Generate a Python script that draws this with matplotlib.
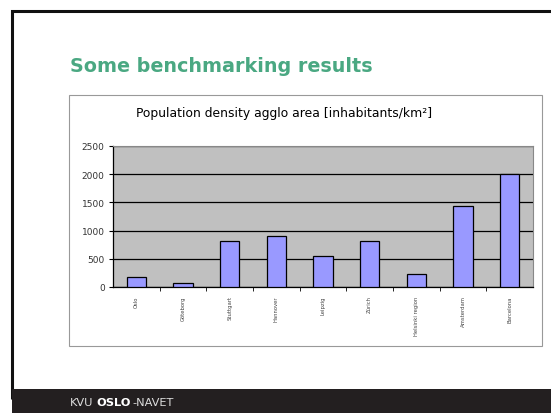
import matplotlib
matplotlib.use("Agg")
import matplotlib.pyplot as plt
from matplotlib.patches import Rectangle

# data
cities = ['Oslo', 'Göteborg', 'Stuttgart', 'Hannover', 'Leipzig', 'Zürich',
          'Helsinki region', 'Amsterdam', 'Barcelona']
density = [180, 70, 815, 910, 545, 815, 225, 1430, 2000]
yticks = [0, 500, 1000, 1500, 2000, 2500]

W, H = 551, 414
fig = plt.figure(figsize=(W / 100, H / 100), dpi=100)
fig.patch.set_facecolor('white')

def px(x0, y0, x1, y1):
    # pixel box (top-left origin) -> figure fraction rect
    return (x0 / W, 1 - y1 / H, (x1 - x0) / W, (y1 - y0) / H)

# slide frame
l, b, w, h = px(12, 12, 560, 400)
fig.patches.append(Rectangle((l, b), w, h, transform=fig.transFigure,
                             fill=False, edgecolor='#111111', lw=2.2, zorder=0))
# footer band
l, b, w, h = px(12, 390, 560, 420)
fig.patches.append(Rectangle((l, b), w, h, transform=fig.transFigure,
                             facecolor='#231f20', edgecolor='none', zorder=0))
t1 = fig.text(70 / W, 1 - 403 / H, 'KVU', color='#dddddd', fontsize=8.2,
              va='center', family='DejaVu Sans')
t2 = fig.text(0, 0, 'OSLO', color='white', fontsize=8.2, weight='bold',
              va='center', family='DejaVu Sans')
t3 = fig.text(0, 0, '-NAVET', color='#dddddd', fontsize=8.2,
              va='center', family='DejaVu Sans')
fig.canvas.draw()
r = fig.canvas.get_renderer()
bb = t1.get_window_extent(r)
t2.set_position(((bb.x1 + 3) / W, 1 - 403 / H))
bb = t2.get_window_extent(r)
t3.set_position(((bb.x1 + 1) / W, 1 - 403 / H))

# slide title
fig.text(70 / W, 1 - 67 / H, 'Some benchmarking results', color='#4aa882',
         fontsize=13.8, weight='bold', va='center', family='DejaVu Sans')

# chart box
l, b, w, h = px(69, 96, 542, 347)
fig.patches.append(Rectangle((l, b), w, h, transform=fig.transFigure,
                             facecolor='white', edgecolor='#999999', lw=0.8, zorder=0))
fig.text(284 / W, 1 - 113 / H, 'Population density agglo area [inhabitants/km²]',
         ha='center', va='center', fontsize=8.9, family='DejaVu Sans')

ax = fig.add_axes(px(113, 147, 533, 288))
ax.set_zorder(2)
ax.set_facecolor('#c0c0c0')
x = list(range(len(cities)))
ax.bar(x, density, width=0.42, color='#9999ff', edgecolor='black', lw=0.9, zorder=3)
ax.set_xlim(-0.5, len(cities) - 0.5)
ax.set_ylim(0, 2500)
ax.set_yticks(yticks)
ax.set_yticklabels([str(t) for t in yticks], fontsize=6.5, color='#333333')
ax.yaxis.grid(True, color='black', lw=0.9, zorder=1)
ax.set_axisbelow(True)
ax.set_xticks(x)
ax.set_xticklabels(cities, rotation=90, fontsize=3.8, color='#444444')
ax.set_xticks([i + 0.5 for i in x[:-1]], minor=True)
ax.tick_params(axis='x', which='major', length=0, pad=6)
ax.tick_params(axis='x', which='minor', length=3, color='black', direction='out')
ax.tick_params(axis='y', length=3, color='black', direction='out', pad=3)
for s in ['top', 'right']:
    ax.spines[s].set_color('#888888')
    ax.spines[s].set_linewidth(0.8)
for s in ['left', 'bottom']:
    ax.spines[s].set_color('black')
    ax.spines[s].set_linewidth(0.9)

fig.savefig('out.png', dpi=100)
